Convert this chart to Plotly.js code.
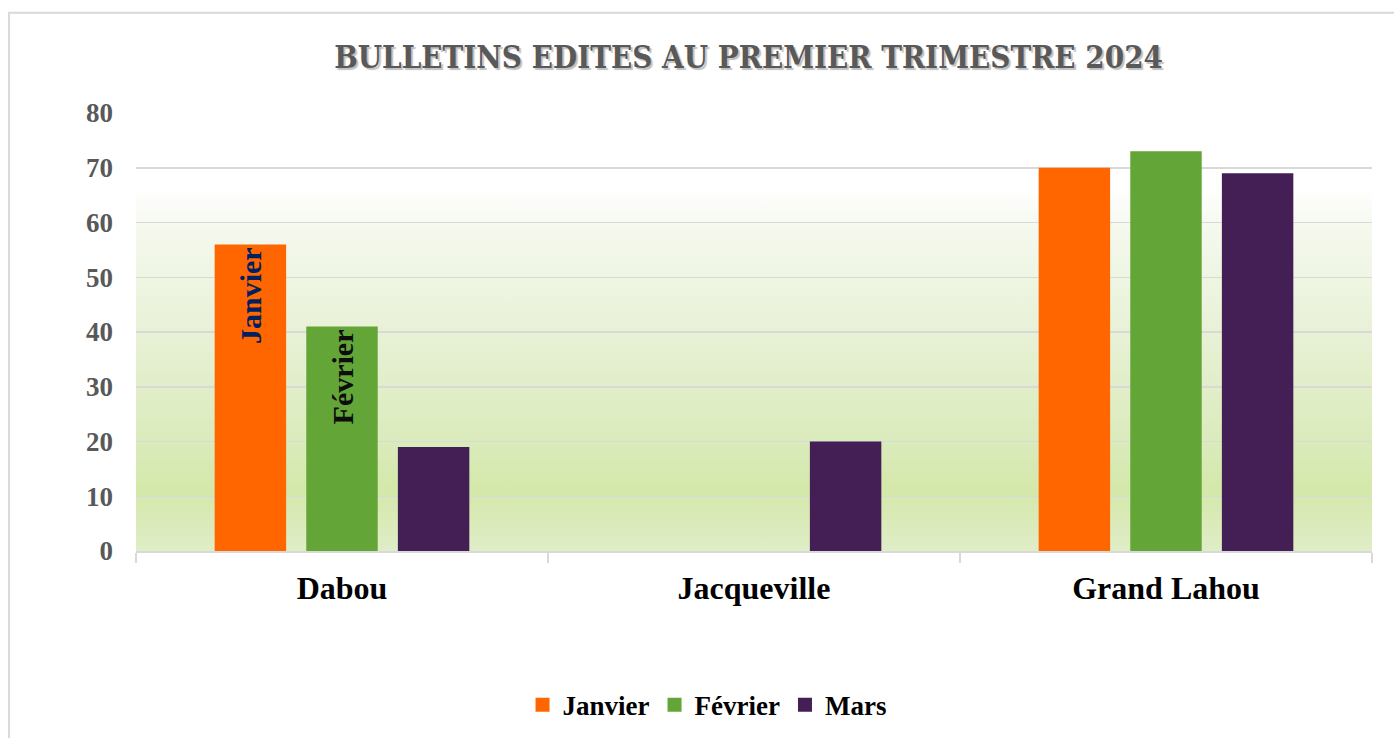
<!DOCTYPE html>
<html>
<head>
<meta charset="utf-8">
<script src="https://cdn.plot.ly/plotly-3.0.1.min.js"></script>
<style>html,body{margin:0;padding:0;background:#fff;}#chart{width:1394px;height:738px;}</style>
</head>
<body>
<div id="chart"></div>
<script>
const categories = ["Dabou", "Jacqueville", "Grand Lahou"];
const seriesNames = ["Janvier", "Février", "Mars"];
const janvier = [56, 0, 70];
const fevrier = [41, 0, 73];
const mars = [19, 20, 69];
const janvierLabels = ["Janvier", "", ""];
const fevrierLabels = ["Février", "", ""];
const marsLabels = ["", "", ""];
const yTicks = [0, 10, 20, 30, 40, 50, 60, 70, 80];
const chartTitle = "BULLETINS EDITES AU PREMIER TRIMESTRE 2024";

const colors = ["#ff6600", "#63a537", "#441f56"];
const labelColors = ["#002060", "#0d0d0d", "#0d0d0d"];
const serif = "'Liberation Serif', 'Times New Roman', serif";

function mk(name, y, text, i) {
  return {
    type: "bar", name: name, x: categories, y: y, text: text,
    textposition: "inside", textangle: -90, insidetextanchor: "end",
    constraintext: "none", cliponaxis: false, showlegend: false,
    textfont: {family: serif, size: 30, weight: "bold", color: labelColors[i]},
    marker: {color: colors[i], line: {width: 0}},
    hoverinfo: "x+y+name"
  };
}
function legendItem(name, i) {
  return {
    type: "scatter", mode: "markers", name: name, x: [null], y: [null],
    marker: {symbol: "square", size: 14, color: colors[i], line: {width: 0}},
    showlegend: true, hoverinfo: "skip"
  };
}
const data = [
  mk(seriesNames[0], janvier, janvierLabels, 0),
  mk(seriesNames[1], fevrier, fevrierLabels, 1),
  mk(seriesNames[2], mars, marsLabels, 2),
  legendItem(seriesNames[0], 0),
  legendItem(seriesNames[1], 1),
  legendItem(seriesNames[2], 2)
];

const grad = "data:image/svg+xml;utf8," + encodeURIComponent(
  '<svg xmlns="http://www.w3.org/2000/svg" width="100" height="100" preserveAspectRatio="none">' +
  '<defs><linearGradient id="g" x1="0" y1="0" x2="0" y2="1">' +
  '<stop offset="0" stop-color="#ffffff"/>' +
  '<stop offset="0.1" stop-color="#f5f9ee"/>' +
  '<stop offset="0.4" stop-color="#e8f1d6"/>' +
  '<stop offset="0.7" stop-color="#daebbb"/>' +
  '<stop offset="0.83" stop-color="#d4e8aa"/>' +
  '<stop offset="1" stop-color="#e0edc7"/>' +
  '</linearGradient></defs><rect width="100" height="100" fill="url(#g)"/></svg>');

const layout = {
  width: 1394, height: 738,
  margin: {l: 136, r: 22, t: 113, b: 187, autoexpand: false},
  paper_bgcolor: "#ffffff", plot_bgcolor: "rgba(0,0,0,0)",
  barmode: "group", bargap: 0.333, bargroupgap: 0.22,
  title: {
    text: chartTitle, x: 0.537, xanchor: "center", y: 0.923, yanchor: "middle", yref: "container",
    font: {family: "'DejaVu Serif Condensed', 'DejaVu Serif', serif", size: 31, weight: "bold", color: "#595959", shadow: "2px 2px 1px #bfbfbf"}
  },
  xaxis: {
    type: "category", showline: true, linecolor: "#d9d9d9", linewidth: 1.5,
    ticks: "outside", tickson: "boundaries", ticklen: 10, tickcolor: "#d9d9d9", tickwidth: 1.5,
    ticklabelstandoff: 8, automargin: false,
    tickfont: {family: serif, size: 32, weight: "bold", color: "#000000"},
    showgrid: false, fixedrange: true
  },
  yaxis: {
    range: [0, 80], tickvals: yTicks, showgrid: true, gridcolor: "#d9d9d9", gridwidth: 1.5,
    zeroline: false, showline: false, ticks: "", ticklabelstandoff: 22, automargin: false,
    tickfont: {family: serif, size: 27, weight: "bold", color: "#595959"}, fixedrange: true
  },
  legend: {
    orientation: "h", x: 0.462, xanchor: "center", y: -0.352, yanchor: "middle",
    font: {family: serif, size: 27, weight: "bold", color: "#000000"},
    itemwidth: 30, tracegroupgap: 0
  },
  images: [{source: grad, xref: "paper", yref: "y", x: 0, y: 66, sizex: 1, sizey: 66,
    xanchor: "left", yanchor: "top", sizing: "stretch", layer: "below"}],
  shapes: [{type: "rect", xref: "paper", yref: "paper", x0: -0.1027, x1: 1.03, y0: -0.6, y1: 1.2288,
    line: {color: "#d9d9d9", width: 2}, fillcolor: "rgba(0,0,0,0)", layer: "below"}],
  showlegend: true
};

Plotly.newPlot("chart", data, layout, {displayModeBar: false, staticPlot: true});
</script>
</body>
</html>
